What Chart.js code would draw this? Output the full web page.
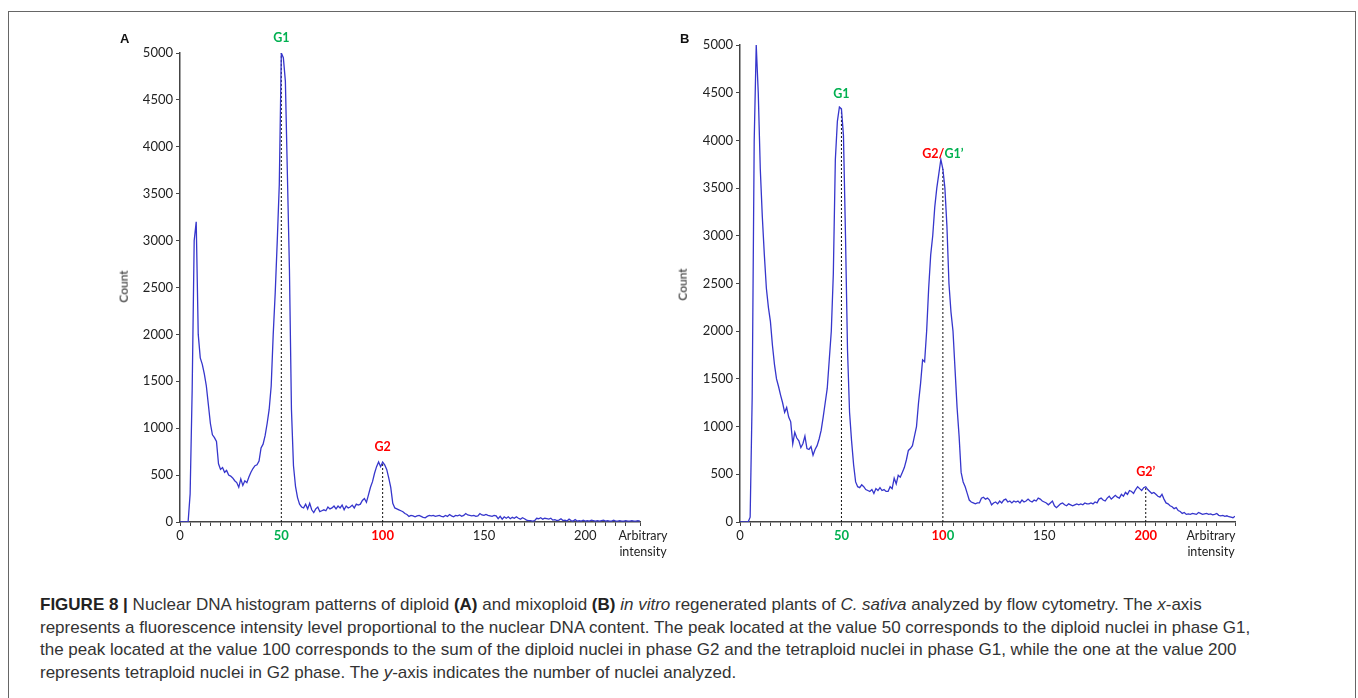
<!DOCTYPE html>
<html>
<head>
<meta charset="utf-8">
<script src="https://cdn.jsdelivr.net/npm/chart.js@4.4.1/dist/chart.umd.min.js"></script>
<style>
  body { margin: 0; background: #fff; width: 1358px; height: 698px; overflow: hidden; position: relative; font-family: Lato, sans-serif; }
  .frame { position: absolute; left: 8px; top: 11px; width: 1346px; height: 720px; border: 1px solid #666; border-width: 1.5px; }
  canvas { position: absolute; }
  .panel { position: absolute; font: bold 13px "Liberation Sans", Arial, sans-serif; color: #111; }
  .count { position: absolute; font-size: 12px; color: #222; transform: rotate(-90deg); transform-origin: center; }
  .xt { position: absolute; font-size: 12.5px; color: #222; text-align: center; line-height: 16px; width: 80px; }
  .caption { position: absolute; left: 40px; top: 594px; font: 17px "Liberation Sans", Arial, sans-serif; line-height: 22.6px; color: #333; white-space: nowrap; }
  .caption b { color: #222; }
</style>
</head>
<body>
<div class="frame"></div>

<canvas id="chartA" width="560" height="545" style="left:100px;top:25px"></canvas>
<canvas id="chartB" width="595" height="545" style="left:660px;top:25px"></canvas>

<div class="panel" style="left:120px;top:31px">A</div>
<div class="panel" style="left:680px;top:31px">B</div>
<div class="count" style="left:107px;top:279px">Count</div>
<div class="count" style="left:666px;top:277px">Count</div>
<div class="xt" style="left:603px;top:528px">Arbitrary<br>intensity</div>
<div class="xt" style="left:1171px;top:528px">Arbitrary<br>intensity</div>

<div class="caption">
<b>FIGURE 8 |</b> Nuclear DNA histogram patterns of diploid <b>(A)</b> and mixoploid <b>(B)</b> <i>in vitro</i> regenerated plants of <i>C. sativa</i> analyzed by flow cytometry. The <i>x</i>-axis<br>
represents a fluorescence intensity level proportional to the nuclear DNA content. The peak located at the value 50 corresponds to the diploid nuclei in phase G1,<br>
the peak located at the value 100 corresponds to the sum of the diploid nuclei in phase G2 and the tetraploid nuclei in phase G1, while the one at the value 200<br>
represents tetraploid nuclei in G2 phase. The <i>y</i>-axis indicates the number of nuclei analyzed.
</div>

<script>
// histogram counts, one value per channel (channel = index)
const countsA = [
  0, 0, 0, 0, 0, 300, 1400, 3000, 3200, 2000,
  1750, 1680, 1580, 1450, 1250, 1050, 930, 900, 860, 620,
  560, 580, 530, 550, 500, 490, 470, 440, 420, 370,
  460, 390, 440, 420, 480, 530, 570, 600, 610, 650,
  790, 830, 920, 1050, 1200, 1450, 2000, 2450, 3000, 3600,
  5000, 4950, 4700, 3700, 2700, 1200, 600, 380, 260, 190,
  160, 150, 190, 140, 200, 130, 100, 140, 160, 110,
  120, 130, 120, 160, 140, 150, 170, 140, 170, 150,
  180, 130, 170, 150, 160, 180, 150, 190, 180, 190,
  230, 250, 210, 290, 370, 430, 520, 590, 640, 590,
  640, 610, 560, 470, 370, 200, 150, 140, 130, 120,
  110, 90, 80, 60, 70, 65, 55, 65, 70, 60,
  50, 45, 60, 70, 65, 70, 60, 65, 70, 60,
  55, 70, 60, 80, 65, 55, 70, 65, 75, 60,
  70, 90, 75, 70, 65, 70, 60, 65, 90, 75,
  70, 80, 70, 65, 60, 70, 65, 35, 60, 30,
  55, 40, 55, 35, 50, 40, 55, 40, 30, 45,
  35, 20, 15, 15, 10, 15, 40, 35, 45, 30,
  40, 35, 30, 40, 20, 25, 15, 20, 35, 15,
  20, 10, 30, 15, 10, 25, 10, 15, 10, 20,
  10, 15, 10, 20, 15, 10, 15, 10, 15, 20,
  10, 15, 10, 10, 20, 10, 10, 15, 10, 10,
  15, 10, 10, 15, 10, 10, 15, 10
];

const countsB = [
  0, 0, 0, 0, 0, 50, 1300, 4000, 5000, 4500,
  3700, 3200, 2800, 2450, 2250, 2100, 1850, 1650, 1500, 1420,
  1330, 1250, 1150, 1200, 1100, 1050, 820, 940, 880, 850,
  780, 820, 900, 770, 760, 790, 700, 760, 800, 870,
  960, 1100, 1250, 1400, 1700, 2000, 2600, 3800, 4200, 4350,
  4330, 4050, 3000, 1800, 1150, 850, 600, 420, 370, 360,
  390, 370, 340, 330, 320, 340, 300, 350, 330, 360,
  330, 340, 320, 320, 370, 350, 460, 400, 490, 470,
  520, 570, 650, 750, 770, 800, 900, 1000, 1250, 1450,
  1700, 1680, 2000, 2450, 2800, 3000, 3300, 3500, 3650, 3800,
  3700, 3500, 3100, 2500, 2200, 2000, 1600, 1200, 900, 520,
  420, 370, 300, 230, 210, 200, 190, 200, 200, 250,
  260, 240, 250, 230, 180, 200, 210, 190, 220, 200,
  230, 240, 210, 220, 200, 220, 210, 220, 200, 230,
  210, 220, 240, 220, 210, 230, 220, 250, 240, 220,
  210, 200, 180, 200, 220, 170, 150, 170, 190, 200,
  180, 170, 190, 180, 170, 180, 190, 180, 190, 180,
  200, 190, 190, 200, 190, 210, 200, 240, 250, 230,
  220, 250, 270, 240, 260, 280, 260, 250, 290, 270,
  310, 290, 330, 320, 300, 340, 370, 350, 330, 360,
  370, 340, 320, 300, 310, 290, 270, 260, 290, 240,
  200, 190, 170, 160, 140, 150, 120, 110, 90, 100,
  80, 85, 80, 90, 85, 80, 100, 90, 80, 85,
  90, 80, 85, 75, 80, 90, 70, 65, 70, 60,
  65, 55, 50, 45, 60
];

const xTickLabels = [0, 50, 100, 150, 200];
const yTicks = [0, 500, 1000, 1500, 2000, 2500, 3000, 3500, 4000, 4500, 5000];

// peak markers: channel where the dotted line and phase label go
const peaksA = [
  { channel: 50, label: [['G1', 'green']] },
  { channel: 100, label: [['G2', 'red']] }
];
const peaksB = [
  { channel: 50, label: [['G1', 'green']] },
  { channel: 100, label: [['G2/', 'red'], ['G1\u2019', 'green']] },
  { channel: 200, label: [['G2\u2019', 'red']] }
];

// coloured x tick labels (pieces of text with a colour each)
const tickPartsA = { 50: [['50', 'green']], 100: [['100', 'red']] };
const tickPartsB = { 50: [['50', 'green']], 100: [['10', 'red'], ['0', 'green']], 200: [['200', 'red']] };

const COLORS = { green: '#00b050', red: '#ff0000', dark: '#222', axis: '#444', line: '#3636cc' };

function drawParts(ctx, parts, cx, cy, font) {
  ctx.font = font;
  let total = 0;
  parts.forEach(p => { total += ctx.measureText(p[0]).width; });
  let x = cx - total / 2;
  parts.forEach(p => {
    ctx.fillStyle = COLORS[p[1]] || p[1];
    ctx.fillText(p[0], x, cy);
    x += ctx.measureText(p[0]).width;
  });
}

function labelPlugin(peaks, tickParts) {
  return {
    id: 'labels',
    afterDraw(chart) {
      const ctx = chart.ctx;
      const xs = chart.scales.x, ys = chart.scales.y;
      const counts = chart.data.datasets[0].data;
      ctx.save();
      ctx.textAlign = 'left';
      ctx.textBaseline = 'middle';
      xTickLabels.forEach(v => {
        const px = xs.getPixelForValue(v);
        const parts = tickParts[v];
        if (parts) drawParts(ctx, parts, px, xs.top + 14, 'bold 13px Lato');
        else drawParts(ctx, [[String(v), '#222']], px, xs.top + 14, '13px Lato');
      });
      peaks.forEach(p => {
        const top = counts[p.channel].y;
        const px = xs.getPixelForValue(p.channel);
        const py = ys.getPixelForValue(top) - 15;
        drawParts(ctx, p.label, px, py, 'bold 12.5px Lato');
      });
      ctx.restore();
    }
  };
}

function makeChart(id, counts, peaks, tickParts, xMax, padTop) {
  const points = counts.map((c, i) => ({ x: i, y: c }));
  const datasets = [{
    data: points,
    borderColor: COLORS.line,
    borderWidth: 1.3,
    pointRadius: 0,
    tension: 0,
    order: 0
  }];
  peaks.forEach(p => {
    datasets.push({
      data: [{ x: p.channel, y: 0 }, { x: p.channel, y: counts[p.channel] }],
      borderColor: '#111',
      borderWidth: 1,
      borderDash: [2, 2],
      pointRadius: 0,
      order: 1
    });
  });
  return new Chart(document.getElementById(id), {
    type: 'line',
    data: { datasets: datasets },
    options: {
      responsive: false,
      animation: false,
      devicePixelRatio: 1,
      layout: { padding: { top: padTop, right: 20, left: 0, bottom: 0 } },
      plugins: { legend: { display: false }, tooltip: { enabled: false } },
      scales: {
        x: {
          type: 'linear',
          min: 0,
          max: xMax,
          ticks: { stepSize: 5, autoSkip: false, callback: () => '', maxRotation: 0 },
          grid: { drawOnChartArea: false, drawTicks: true, tickLength: 4, color: COLORS.axis, lineWidth: 1 },
          border: { display: true, color: COLORS.axis, width: 1.5 },
          afterFit: s => { s.height = 48; }
        },
        y: {
          min: 0,
          max: 5000,
          afterBuildTicks: s => { s.ticks = yTicks.map(v => ({ value: v })); },
          ticks: { color: '#222', font: { family: 'Lato', size: 13 }, padding: 3, callback: v => String(v) },
          grid: { drawOnChartArea: false, drawTicks: true, tickLength: 4, color: COLORS.axis, lineWidth: 1 },
          border: { display: true, color: COLORS.axis, width: 1.5 },
          afterFit: s => { s.width = 80; }
        }
      }
    },
    plugins: [labelPlugin(peaks, tickParts)]
  });
}

makeChart('chartA', countsA, peaksA, tickPartsA, 227, 28);
makeChart('chartB', countsB, peaksB, tickPartsB, 244, 20);
</script>
</body>
</html>
